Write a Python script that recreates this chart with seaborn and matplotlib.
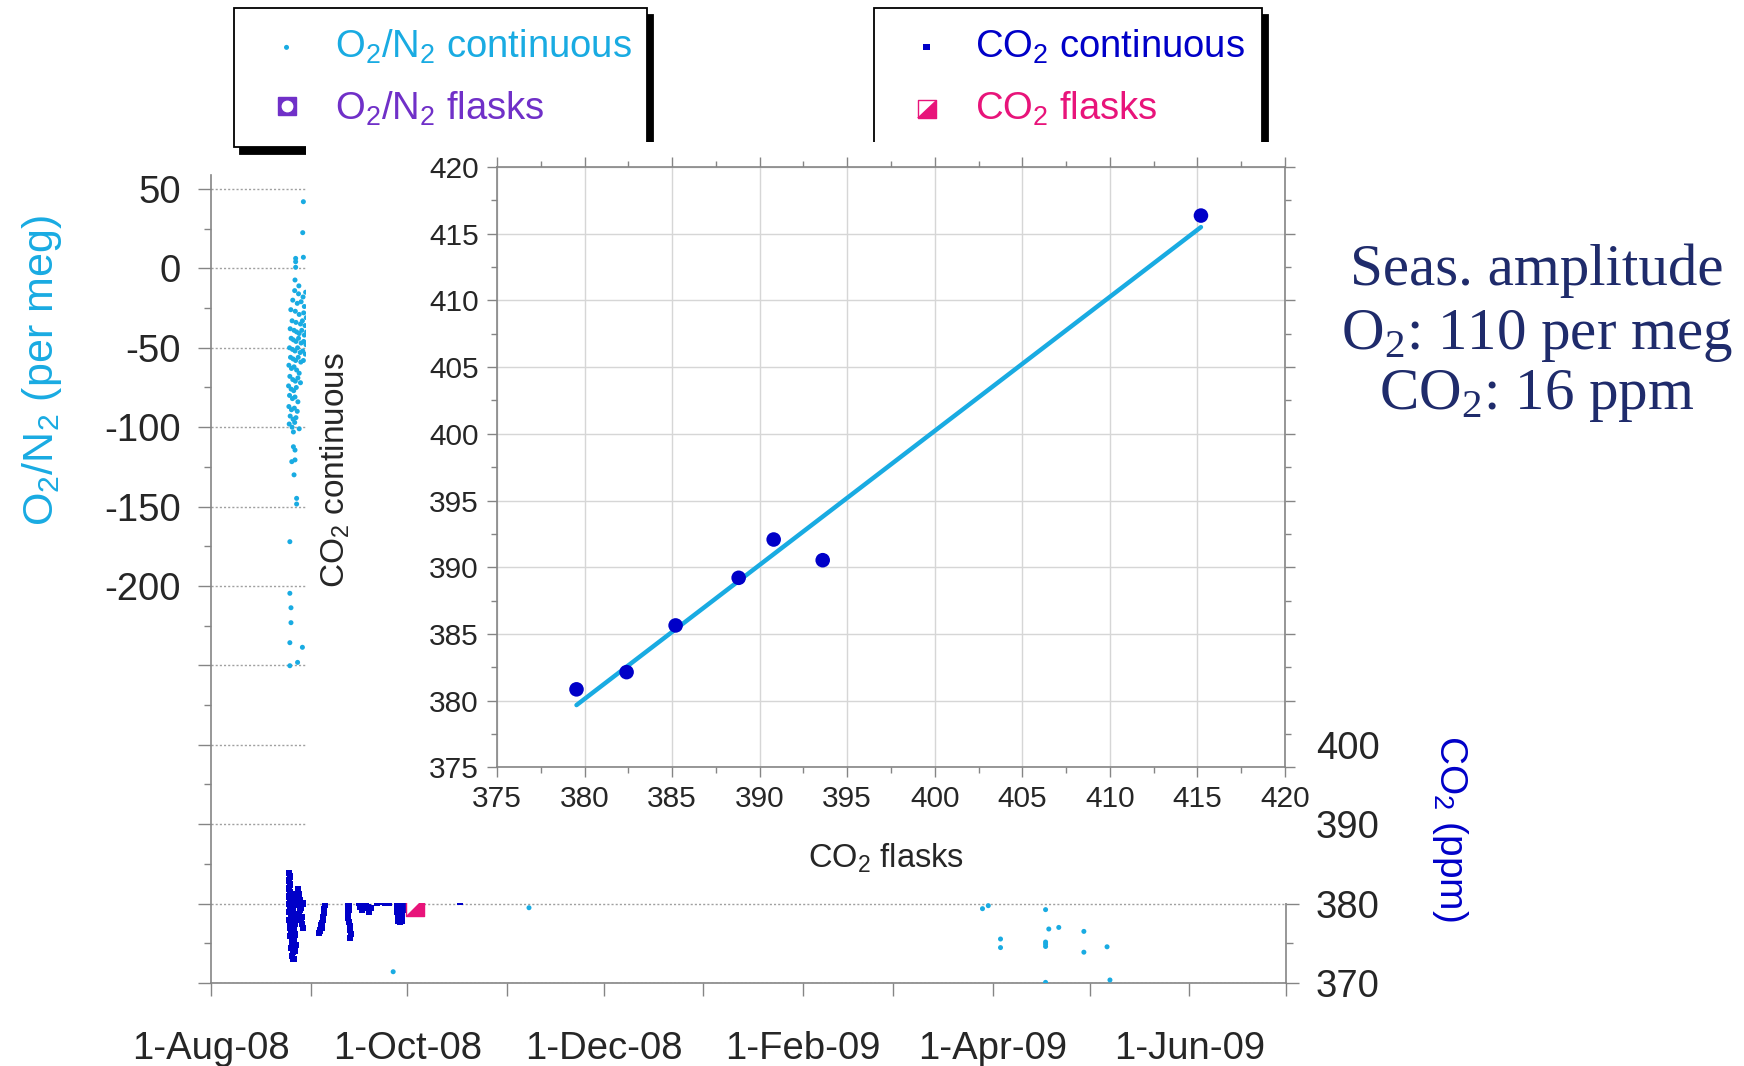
import numpy as np
import pandas as pd
import matplotlib
matplotlib.use("Agg")
import matplotlib.pyplot as plt
import matplotlib.dates as mdates
from matplotlib.lines import Line2D
from matplotlib.legend_handler import HandlerTuple
from matplotlib.ticker import MultipleLocator
import seaborn as sns

# ---------------- data ----------------
START = pd.Timestamp("2008-08-01")

# O2/N2 continuous record: days after 1 Aug 2008 and per meg values
o2_cont_day = [
    28.7, 28.5, 28.7, 26.3, 26.3, 26.3, 26.1, 27.3,
    26.0, 27.2, 28.6, 29.4, 25.4, 26.8, 28.0, 29.0, 24.8, 26.2, 27.4, 28.8, 29.6,
    25.2, 26.4, 27.8, 28.4, 29.2, 24.6, 25.8, 26.6, 27.4, 28.2, 29.0, 29.7,
    24.9, 25.6, 26.4, 27.2, 28.0, 28.8, 29.5, 24.4, 25.3, 26.1, 26.9, 27.7, 28.5, 29.3,
    24.7, 25.5, 26.3, 27.1, 27.9, 28.7, 24.2, 25.0, 25.8, 26.6, 27.4,
    24.5, 25.4, 26.2, 27.0, 27.8, 24.1, 24.9, 25.7, 26.5, 24.4, 25.3, 26.1, 27.0,
    24.2, 25.0, 25.9, 26.8, 24.6, 25.5, 26.4, 24.3, 25.2, 26.0, 27.4, 25.6,
    25.6, 26.1, 25.1, 26.1, 25.8, 26.6, 26.6, 24.5, 24.5, 24.85, 24.85, 24.5, 28.4, 24.5, 26.9,
    56.6, 98.8, 239.7, 241.5, 245.3, 245.3, 259.3, 260.3, 263.4, 259.3, 259.3, 259.3,
    259.3, 271.2, 271.2, 278.4, 279.3,
]
o2_cont_val = [
    42.0, 22.5, 7.0, 6.3, 4.2, 0.7, -7.3, -11.0,
    -14, -16, -18, -15, -20, -22, -21, -24, -26, -27, -29, -28, -31,
    -33, -34, -35, -33, -36, -38, -39, -40, -41, -39, -42, -40,
    -44, -45, -46, -44, -47, -46, -48, -50, -51, -52, -50, -53, -52, -54,
    -56, -57, -58, -56, -59, -58, -61, -63, -62, -64, -66,
    -68, -70, -71, -69, -72, -74, -76, -77, -75, -80, -82, -81, -84,
    -87, -89, -88, -90, -93, -95, -94, -98, -100, -97, -101, -103,
    -112.3, -114.4, -121.7, -120.6, -130.0, -144.8, -148.4, -172.1, -204.6, -213.7,
    -223.1, -235.7, -238.6, -250.2, -248.1,
    -442.9, -402.6, -403.2, -401.3, -422.3, -427.7, -403.8, -416.0, -415.0, -424.2,
    -425.5, -427.0, -449.6, -417.5, -430.6, -427.2, -448.1,
]

# CO2 continuous record: days after 1 Aug 2008 and ppm values
co2_cont_day = [
    24.3, 24.5, 24.3, 24.6, 24.2, 24.5, 24.3, 24.7, 24.2, 24.6, 24.4, 24.8,
    24.3, 24.7, 24.5, 25.0, 24.6, 25.1, 25.3, 25.0, 25.4, 25.2, 25.6,
    25.3, 25.7, 25.9, 25.5, 26.0, 25.6, 26.1, 25.8, 26.2, 25.9, 26.4, 26.2,
    27.0, 27.3, 27.5, 27.1, 27.6, 27.3, 27.8, 28.2, 28.5, 27.9, 28.6, 28.3,
    35.5, 35.3, 35.2, 35.0, 34.9, 34.7, 34.5, 34.3, 33.8, 33.5, 34.1,
    42.6, 42.5, 42.7, 42.5, 42.6, 42.8, 43.3, 43.2, 43.4, 43.3, 42.9,
    45.9, 46.3, 46.8, 47.4, 48.0, 48.6, 49.1, 49.6, 46.1,
    51.5, 52.8, 54.0, 55.2,
    57.7, 57.8, 57.9, 58.0, 58.2, 58.8, 59.3, 59.4, 59.6, 59.8, 58.6,
    77.4,
]
co2_cont_val = [
    383.9, 383.4, 382.9, 382.4, 381.9, 381.4, 380.9, 380.4, 379.9, 379.4, 378.9, 378.4,
    377.9, 377.4, 376.9, 376.4, 375.9, 375.4, 374.9, 374.4, 373.9, 373.4, 373.0,
    381.2, 380.6, 380.0, 379.3, 378.7, 378.1, 377.5, 376.8, 376.1, 375.5, 374.8, 374.1,
    381.8, 381.2, 380.5, 379.8, 379.2, 378.6, 378.0, 377.4, 376.9, 379.5, 380.0, 378.3,
    380.2, 379.8, 379.3, 378.8, 378.3, 377.9, 377.5, 377.0, 376.6, 376.3, 377.3,
    380.2, 379.7, 379.2, 378.7, 378.2, 377.7, 377.2, 376.7, 376.2, 375.7, 380.0,
    380.1, 379.6, 379.2, 379.8, 380.0, 379.5, 379.0, 379.4, 380.3,
    380.1, 380.2, 380.1, 380.1,
    380.2, 379.6, 379.0, 378.4, 377.8, 377.7, 377.8, 378.5, 379.2, 379.9, 380.1,
    380.2,
]

# CO2 flask sample
co2_flask_day = [63.5]
co2_flask_val = [379.6]

# flask vs. continuous CO2 comparison (ppm)
cmp_flask = [379.54, 382.40, 385.20, 388.80, 390.80, 393.60, 415.20]
cmp_cont = [380.85, 382.14, 385.64, 389.21, 392.08, 390.53, 416.36]

# axis ticks and labels
date_ticks = ["2008-08-01", "2008-10-01", "2008-12-01", "2009-02-01", "2009-04-01", "2009-06-01"]
date_labels = ["1-Aug-08", "1-Oct-08", "1-Dec-08", "1-Feb-09", "1-Apr-09", "1-Jun-09"]
o2_ticks = [50, 0, -50, -100, -150, -200, -250, -300, -350, -400, -450]
o2_tick_labels = ["50", "0", "-50", "-100", "-150", "-200", "", "", "", "", ""]
co2_ticks = [370, 380, 390, 400]
co2_tick_labels = ["370", "380", "390", "400"]
cmp_ticks = [375, 380, 385, 390, 395, 400, 405, 410, 415, 420]

# ---------------- style ----------------
CYAN = "#19abe2"
BLUE = "#0000c8"
PURPLE = "#7030c8"
MAGENTA = "#e8147a"
NAVY = "#1f2b6b"
GREY = "#858585"

sns.set_style("ticks")
plt.rcParams["font.family"] = ["Liberation Sans", "DejaVu Sans"]
plt.rcParams["mathtext.default"] = "regular"

W, H = 1744, 1066


def box(left, top, right, bottom):
    """Pixel box -> figure-fraction rectangle."""
    return [left / W, 1 - bottom / H, (right - left) / W, (bottom - top) / H]


fig = plt.figure(figsize=(W / 100, H / 100), dpi=100)
ax = fig.add_axes(box(211, 175.5, 1286, 983))
ax2 = ax.twinx()

# ---------------- time series ----------------
df_o2 = pd.DataFrame({"date": START + pd.to_timedelta(o2_cont_day, unit="D"), "val": o2_cont_val})
df_co2 = pd.DataFrame({"date": START + pd.to_timedelta(co2_cont_day, unit="D"), "val": co2_cont_val})
df_fl = pd.DataFrame({"date": START + pd.to_timedelta(co2_flask_day, unit="D"), "val": co2_flask_val})

sns.scatterplot(data=df_o2, x="date", y="val", ax=ax, color=CYAN, s=13,
                linewidth=0, edgecolor="none", legend=False, zorder=3)
h_o2c = ax.collections[-1]

sns.scatterplot(data=df_co2, x="date", y="val", ax=ax2, color=BLUE, marker="s", s=20,
                linewidth=0, edgecolor="none", legend=False, zorder=3)
h_co2c = ax2.collections[-1]

sns.scatterplot(data=df_fl, x="date", y="val", ax=ax2, color="white", marker="s", s=170,
                linewidth=1.0, edgecolor=MAGENTA, legend=False, zorder=4)
h_fl_sq = ax2.collections[-1]
sns.scatterplot(data=df_fl, x="date", y="val", ax=ax2, color=MAGENTA,
                marker=[(-1, -1), (1, -1), (1, 1)], s=170,
                linewidth=0, edgecolor="none", legend=False, zorder=5)
h_fl_tri = ax2.collections[-1]

ax.set_xlim(pd.Timestamp("2008-08-01"), pd.Timestamp("2009-07-01"))
ax.set_ylim(-450, 58.5)
ax2.set_ylim(370, 370 + 508.5 / 5)

ax.set_xticks(pd.to_datetime(date_ticks))
ax.set_xticklabels(date_labels)
ax.xaxis.set_minor_locator(mdates.MonthLocator())
ax.set_yticks(o2_ticks)
ax.set_yticklabels(o2_tick_labels)
ax.yaxis.set_minor_locator(MultipleLocator(25))
ax2.set_yticks(co2_ticks)
ax2.set_yticklabels(co2_tick_labels)
ax2.yaxis.set_minor_locator(MultipleLocator(5))

ax.tick_params(axis="x", which="both", direction="out", length=9.5, width=1,
               color=GREY, labelsize=27.5, pad=25)
ax.tick_params(axis="y", which="major", direction="out", length=9.5, width=1,
               color=GREY, labelsize=27.5, pad=12)
ax.tick_params(axis="y", which="minor", direction="out", length=5, width=1, color=GREY)
ax2.tick_params(axis="y", which="major", direction="out", length=9.5, width=1,
                color=GREY, labelsize=27.5, pad=12)
ax2.tick_params(axis="y", which="minor", direction="out", length=5, width=1, color=GREY)

ax.grid(False)
ax.yaxis.grid(True, which="major", linestyle=(0, (1.5, 1.5)), color="#a0a0a0", linewidth=1)
for name, sp in ax.spines.items():
    sp.set_visible(name in ("left", "bottom"))
    sp.set_color(GREY)
    sp.set_linewidth(1.2)
for name, sp in ax2.spines.items():
    sp.set_visible(name == "right")
    sp.set_color(GREY)
    sp.set_linewidth(1.2)

ax.set_xlabel("")
ax.set_ylabel("O$_2$/N$_2$ (per meg)", color=CYAN, fontsize=31,
              va="center", ha="center", rotation_mode="default")
ax.yaxis.set_label_coords(42 / W, 1 - 371 / H, transform=fig.transFigure)
ax2.set_ylabel("CO$_2$ (ppm)", color=BLUE, fontsize=28, rotation=-90,
               va="center", ha="center", rotation_mode="default")
ax2.yaxis.set_label_coords(1450 / W, 1 - 828 / H, transform=fig.transFigure)

# ---------------- legends ----------------
h_o2f = (Line2D([], [], ls="none", marker="s", ms=12.5, mfc=PURPLE, mec=PURPLE),
         Line2D([], [], ls="none", marker="o", ms=7.5, mfc="white", mec="white"))
LEG_TOP, LEG_BOTTOM = 8.3, 154
leg_kw = dict(loc="upper left", mode="expand", borderaxespad=0, bbox_transform=fig.transFigure,
              prop={"size": 27.5}, frameon=True, fancybox=False, edgecolor="black",
              framealpha=1, borderpad=0.5, labelspacing=0.62, handlelength=1.75,
              handletextpad=0.4, scatterpoints=1, numpoints=1,
              shadow={"ox": 4.3, "oy": -5, "color": "black", "alpha": 1},
              handler_map={tuple: HandlerTuple(ndivide=1, pad=0)})
leg1 = ax.legend([h_o2c, h_o2f], ["O$_2$/N$_2$ continuous", "O$_2$/N$_2$ flasks"],
                 bbox_to_anchor=(234 / W, 1 - LEG_BOTTOM / H, (647 - 234) / W,
                                 (LEG_BOTTOM - LEG_TOP) / H),
                 labelcolor=[CYAN, PURPLE], **leg_kw)
leg1.get_frame().set_linewidth(1.3)
leg2 = ax2.legend([h_co2c, (h_fl_sq, h_fl_tri)], ["CO$_2$ continuous", "CO$_2$ flasks"],
                  bbox_to_anchor=(874 / W, 1 - LEG_BOTTOM / H, (1262 - 874) / W,
                                  (LEG_BOTTOM - LEG_TOP) / H),
                  labelcolor=[BLUE, MAGENTA], **leg_kw)
leg2.get_frame().set_linewidth(1.3)

# white panel behind the comparison inset
cover = fig.add_axes(box(306, 141.5, 1300, 902.5))
cover.set_facecolor("white")
cover.set_xticks([])
cover.set_yticks([])
for sp in cover.spines.values():
    sp.set_visible(False)

# ---------------- inset: flasks vs continuous ----------------
ins = fig.add_axes(box(497, 167, 1285, 767.4))
sns.regplot(x=cmp_flask, y=cmp_cont, ax=ins, scatter=False, ci=None, color=CYAN,
            line_kws={"linewidth": 3.2, "zorder": 2})
sns.scatterplot(x=cmp_flask, y=cmp_cont, ax=ins, color=BLUE, s=110, linewidth=0,
                edgecolor="none", legend=False, zorder=3)
ins.set_xlim(375, 420)
ins.set_ylim(375, 420)
ins.set_xticks(cmp_ticks)
ins.set_yticks(cmp_ticks)
ins.xaxis.set_minor_locator(MultipleLocator(2.5))
ins.yaxis.set_minor_locator(MultipleLocator(2.5))
ins.tick_params(which="both", direction="out", top=True, right=True, color=GREY, width=1)
ins.tick_params(which="major", length=7, labelsize=21.5, pad=6)
ins.tick_params(which="minor", length=4)
ins.grid(True, which="major", color="#d6d6d6", linewidth=1, linestyle="-")
for sp in ins.spines.values():
    sp.set_color(GREY)
    sp.set_linewidth(1.2)
ins.set_xlabel("CO$_2$ flasks", fontsize=23.5, va="center", ha="center")
ins.xaxis.set_label_coords(886 / W, 1 - 858 / H, transform=fig.transFigure)
ins.set_ylabel("CO$_2$ continuous", fontsize=24, va="center", ha="center",
               rotation_mode="default")
ins.yaxis.set_label_coords(335 / W, 1 - 470 / H, transform=fig.transFigure)

# ---------------- annotation ----------------
note_kw = dict(ha="center", va="baseline", fontsize=42.5, color=NAVY,
               family=["Liberation Serif", "DejaVu Serif"])
fig.text(1537 / W, 1 - 285 / H, "Seas. amplitude", **note_kw)
fig.text(1537 / W, 1 - 349 / H, "O$_2$: 110 per meg", **note_kw)
fig.text(1537 / W, 1 - 409 / H, "CO$_2$: 16 ppm", **note_kw)

fig.savefig("out.png", dpi=100)
